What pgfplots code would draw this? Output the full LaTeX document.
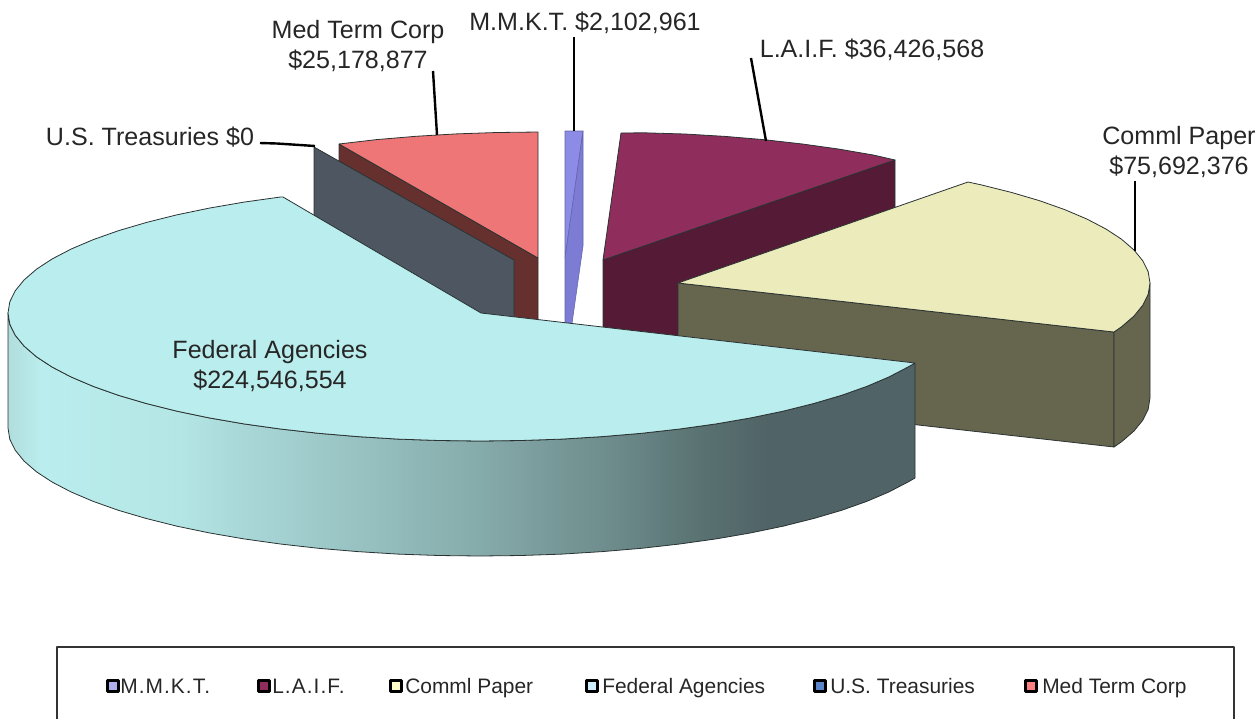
\documentclass[border=0pt]{standalone}
\usepackage{pgfplots}
\pgfplotsset{compat=1.18}
\usepackage{fontspec}
\setmainfont{Liberation Sans}
\definecolor{fedtop}{HTML}{BAEDED}
\definecolor{cptop}{HTML}{EBEBBB}
\definecolor{cpside}{HTML}{66664F}
\definecolor{laiftop}{HTML}{8F2E5C}
\definecolor{laifside}{HTML}{541A36}
\definecolor{mmtop}{HTML}{8C8CE6}
\definecolor{mmside}{HTML}{7C7CD4}
\definecolor{medtop}{HTML}{EF7676}
\definecolor{medside}{HTML}{66302F}
\definecolor{tsyside}{HTML}{4E5661}
\definecolor{edge}{HTML}{2A3232}
\definecolor{txt}{HTML}{262626}
\definecolor{feddark}{HTML}{506366}
\definecolor{swblue}{HTML}{5B85C8}
\tikzset{
  lab/.style={font=\fontsize{18.8}{22.2}\selectfont, text=txt, align=center, inner sep=0pt},
  leg/.style={font=\fontsize{15.7}{17}\selectfont, text=txt, anchor=base west, inner sep=0pt},
}
\pgfdeclarehorizontalshading{fedside}{100bp}{
 color(0bp)=(fedtop!85!gray);
 color(25bp)=(fedtop!85!gray);
 color(26.8bp)=(fedtop);
 color(34.5bp)=(fedtop!97!black);
 color(37.2bp)=(fedtop!92!black);
 color(42.8bp)=(fedtop!84!black);
 color(51bp)=(fedtop!72!black);
 color(58.7bp)=(fedtop!58!black);
 color(63.1bp)=(fedtop!48!black);
 color(67bp)=(feddark);
 color(75bp)=(feddark);
 color(100bp)=(feddark)}
\begin{document}
\begin{tikzpicture}
\useasboundingbox (0,0) rectangle (945pt,539.25pt);
\begin{axis}[
  anchor=south west, at={(0,0)},
  hide axis, scale only axis, width=945pt, height=539.25pt,
  xmin=0, xmax=1260, ymin=0, ymax=719, y dir=reverse,
  every axis plot/.append style={line join=round},
  slice/.style={draw=edge, line width=0.6pt, mark=none},
  leader/.style={draw=black, line width=1.8pt, mark=none},
  sw/.style={only marks, mark=square*, mark size=4.2pt, mark options={draw=black, line width=1.7pt, fill=#1}},
]
% L.A.I.F.
\addplot[slice, fill=laifside] coordinates {(603,260) (895,160) (895,275) (603,375) (603,260)};
\addplot[slice, fill=laiftop] coordinates {(603,260) (621,133) (644.1,132.8) (684.9,134) (725.2,136.4) (764.4,139.7) (802.5,144) (839,149.1) (873.7,155.1) (895,160) (603,260)};
% Comml Paper
\addplot[slice, fill=cpside] coordinates {(678,283) (1114,332) (1114,447) (678,398) (678,283)};
\addplot[slice, fill=cpside] coordinates {(1150,283) (1148.2,294.2) (1142.8,305.2) (1133.9,316.1) (1121.5,326.8) (1114,332) (1114,447) (1121.5,441.8) (1133.9,431.1) (1142.8,420.2) (1148.2,409.2) (1150,398) (1150,283)};
\addplot[slice, fill=cptop] coordinates {(678,283) (968,182) (981.4,184.9) (1011.7,192.5) (1039.6,200.7) (1064.7,209.6) (1086.8,219) (1105.8,228.9) (1121.5,239.2) (1133.9,249.9) (1142.8,260.8) (1148.2,271.8) (1150,283) (1148.2,294.2) (1142.8,305.2) (1133.9,316.1) (1121.5,326.8) (1114,332) (678,283)};
% M.M.K.T.
\addplot[draw=mmside!80!black, line width=0.4pt, fill=mmtop, mark=none] coordinates {(565,258) (565,131) (583,131) (565,258)};
\addplot[draw=mmside!80!black, line width=0.4pt, fill=mmside, mark=none] coordinates {(565,258) (583,131) (583,246) (565,373) (565,258)};
% Med Term Corp
\addplot[slice, fill=medside] coordinates {(339,144) (538,258) (538,373) (339,259) (339,144)};
\addplot[slice, fill=medtop] coordinates {(538,258) (538,132) (496.9,132.5) (456.1,133.9) (415.8,136.3) (376.6,139.6) (339,144) (538,258)};
% U.S. Treasuries
\addplot[slice, fill=tsyside] coordinates {(314,147) (514,260) (514,375) (314,262) (314,147)};
% Federal Agencies
\addplot[slice, shade, shading=fedside] coordinates {(915,363) (907.8,367.1) (888.8,377) (866.7,386.4) (841.6,395.3) (813.7,403.5) (783.4,411.1) (750.7,417.9) (716,423.9) (679.5,429) (641.4,433.3) (602.2,436.6) (561.9,439.1) (521.2,440.5) (480,441) (438.8,440.5) (398.1,439.1) (357.8,436.6) (318.6,433.3) (280.5,429) (244,423.9) (209.3,417.9) (176.6,411.1) (146.3,403.5) (118.4,395.3) (93.3,386.4) (71.2,377) (52.2,367.1) (36.5,356.8) (24.1,346.1) (15.2,335.2) (9.8,324.2) (8,313)
 (8,428) (9.8,439.2) (15.2,450.2) (24.1,461.1) (36.5,471.8) (52.2,482.1) (71.2,492) (93.3,501.4) (118.4,510.3) (146.3,518.5) (176.6,526.1) (209.3,532.9) (244,538.9) (280.5,544) (318.6,548.3) (357.8,551.6) (398.1,554.1) (438.8,555.5) (480,556) (521.2,555.5) (561.9,554.1) (602.2,551.6) (641.4,548.3) (679.5,544) (716,538.9) (750.7,532.9) (783.4,526.1) (813.7,518.5) (841.6,510.3) (866.7,501.4) (888.8,492) (907.8,482.1) (915,478) (915,363)};
\addplot[slice, fill=fedtop] coordinates {(481,313) (915,363) (907.8,367.1) (888.8,377) (866.7,386.4) (841.6,395.3) (813.7,403.5) (783.4,411.1) (750.7,417.9) (716,423.9) (679.5,429) (641.4,433.3) (602.2,436.6) (561.9,439.1) (521.2,440.5) (480,441) (438.8,440.5) (398.1,439.1) (357.8,436.6) (318.6,433.3) (280.5,429) (244,423.9) (209.3,417.9) (176.6,411.1) (146.3,403.5) (118.4,395.3) (93.3,386.4) (71.2,377) (52.2,367.1) (36.5,356.8) (24.1,346.1) (15.2,335.2) (9.8,324.2) (8,313) (9.8,301.8) (15.2,290.8) (24.1,279.9) (36.5,269.2) (52.2,258.9) (71.2,249) (93.3,239.6) (118.4,230.7) (146.3,222.5) (176.6,214.9) (209.3,208.1) (244,202.1) (280.5,197) (283,197) (481,313)};
% Leader lines
\addplot[leader] coordinates {(433,71) (437,135)};
\addplot[leader] coordinates {(574,37) (574,131)};
\addplot[leader] coordinates {(751,58) (766,141)};
\addplot[leader] coordinates {(1135,181) (1135,251)};
\addplot[leader] coordinates {(260,143) (277,143.5) (315,146)};
% Legend frame
\addplot[draw=black!80, line width=1.1pt, mark=none] coordinates {(57,719) (57,647) (1234,647) (1234,719)};
\addplot[sw=mmtop!70!white] coordinates {(113,686)};
\addplot[sw=laiftop] coordinates {(264,686)};
\addplot[sw=yellow!20!white] coordinates {(396,686)};
\addplot[sw=cyan!20!white] coordinates {(592,686)};
\addplot[sw=swblue] coordinates {(820,686)};
\addplot[sw=red!50!white] coordinates {(1031,686)};
% Labels
\node[lab] at (axis cs:585,23) {M.M.K.T. \$2,102,961};
\node[lab] at (axis cs:358,46) {Med Term Corp\\\$25,178,877};
\node[lab] at (axis cs:872,50) {L.A.I.F. \$36,426,568};
\node[lab] at (axis cs:1179,152) {Comml Paper\\\$75,692,376};
\node[lab] at (axis cs:150,137) {U.S. Treasuries \$0};
\node[lab] at (axis cs:270,366) {Federal Agencies\\\$224,546,554};
\node[leg] at (axis cs:120,693) {\addfontfeature{LetterSpace=5}M.M.K.T.};
\node[leg] at (axis cs:272,693) {\addfontfeature{LetterSpace=5}L.A.I.F.};
\node[leg] at (axis cs:405,693) {Comml Paper};
\node[leg] at (axis cs:602,693) {Federal Agencies};
\node[leg] at (axis cs:830,693) {U.S. Treasuries};
\node[leg] at (axis cs:1042,693) {Med Term Corp};
\end{axis}
\end{tikzpicture}
\end{document}
